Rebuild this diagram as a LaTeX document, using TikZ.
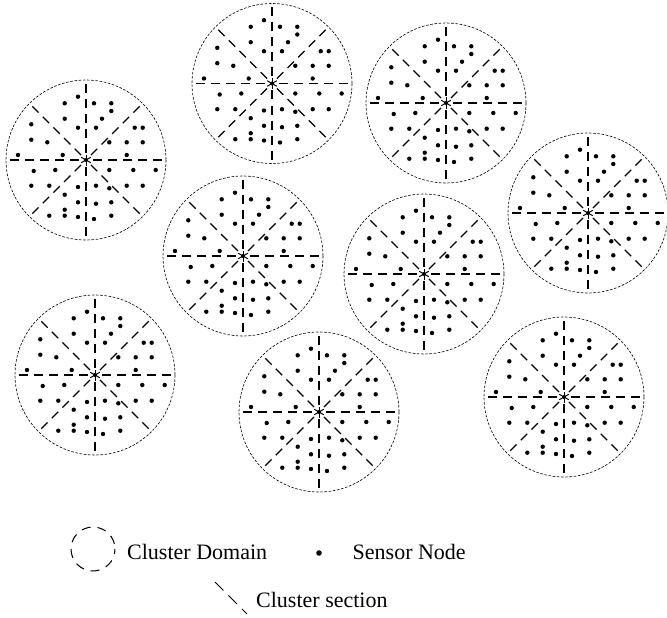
\documentclass[tikz,border=0pt]{standalone}
\usepackage{fontspec}
\setmainfont{Liberation Serif}
\begin{document}
\begin{tikzpicture}[x=1pt,y=-1pt,
  domainline/.style={draw, line width=0.6pt, dash pattern=on 2.6pt off 1.6pt},
  sectionline/.style={line width=1.2pt, dash pattern=on 9pt off 6pt},
  legendtext/.style={anchor=base west, inner sep=0pt, font=\fontsize{22}{26}\selectfont}]
\useasboundingbox (0,0) rectangle (667,618);

% sensor positions, relative to the cluster head (pixels, y downwards)
\def\sensors{-8/-63.3, -21.3/-56.7, 8/-56.7, 25.3/-56.7, 25.3/-49,
  -21.3/-41.3, 16/-41.3, -54.7/-35.7, -8/-32.3, 10/-32.3, 48.7/-32.3,
  56.7/-32.3, -54.7/-20.3, -38.7/-17.7, 23.3/-17.7, 40.7/-17.7, 56.7/-17.7,
  -68/-5, -23.3/-5, 40.7/-5, -52.3/11, -30.7/10, 23.3/10, 47.3/10, 69.7/10,
  -54.7/25.7, -36.7/25.7, -8/27, 10/25.7, 23.3/28.3, 40.7/25.7, 56.7/25.7,
  -21.3/34.7, -8/42.3, 10/43.7, 25.3/42.3, -21.3/49.7, -36.7/55.7,
  -21.3/55.7, -8/57, 8/59, 25.3/55.7}

% cluster heads
\coordinate (c1) at (86,160);
\coordinate (c2) at (272,83.5);
\coordinate (c3) at (446,103);
\coordinate (c4) at (588,213);
\coordinate (c5) at (243,256);
\coordinate (c6) at (424,274);
\coordinate (c7) at (95,375);
\coordinate (c8) at (319,412);
\coordinate (c9) at (564,397);

\foreach \c in {c1,c2,c3,c4,c5,c6,c7,c8,c9}{
  % cluster domain
  \draw[domainline] (\c) circle (80);
  % cluster sections
  \foreach \a in {0,45,...,315}
    \draw[sectionline] (\c) ++(\a:7) -- ++(\a:73);
  % cluster head
  \fill (\c) circle (2);
  \foreach \a in {0,60,...,300}
    \draw[line width=1pt] (\c) -- ++(\a+90:5.5);
  % sensor nodes
  \foreach \dx/\dy in \sensors
    \fill (\c) ++(\dx,\dy) circle (2.2);
}

% legend
\coordinate (ldom) at (93,549);
\draw[line width=1pt, dash pattern=on 9pt off 7pt, dash phase=4pt] (ldom) circle (22);
\node[legendtext] (tdom) at (127,559) {Cluster Domain};
\coordinate (lsen) at (319,553);
\fill (lsen) circle (2.8);
\node[legendtext] (tsen) at (352.5,559) {Sensor Node};
\coordinate (lsa) at (215,582);
\coordinate (lsb) at (247,614);
\draw[line width=1pt, dash pattern=on 12pt off 7pt] (lsa) -- (lsb);
\node[legendtext] (tsec) at (256,607) {Cluster section};
\end{tikzpicture}
\end{document}
